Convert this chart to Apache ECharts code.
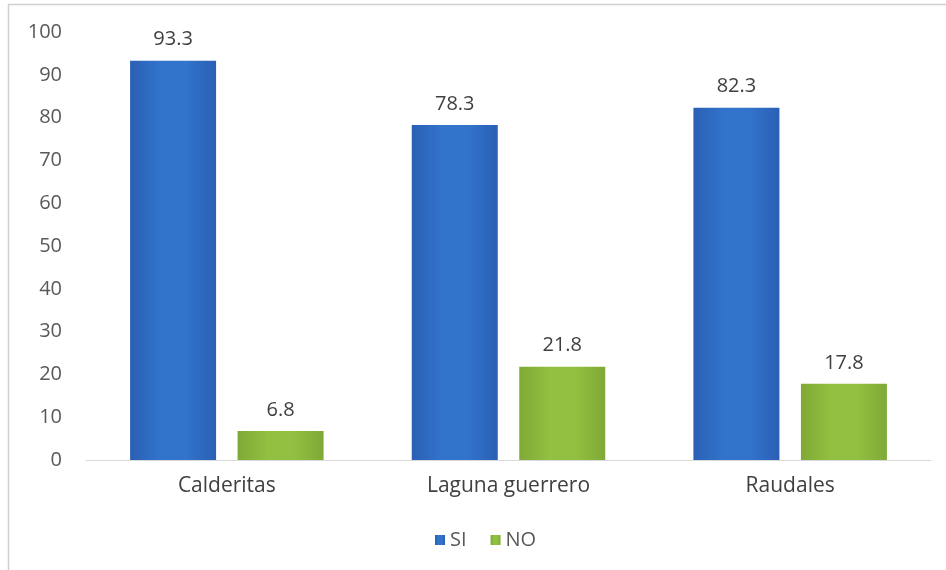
<!DOCTYPE html>
<html>
<head>
<meta charset="utf-8">
<script src="https://cdn.jsdelivr.net/npm/echarts@6/dist/echarts.min.js"></script>
<style>
html,body{margin:0;padding:0;background:#fff;}
#chart{width:946px;height:570px;}
</style>
</head>
<body>
<div id="chart"></div>
<script>
const categories = ['Calderitas', 'Laguna guerrero', 'Raudales'];
const siValues = [93.3, 78.3, 82.3];
const noValues = [6.8, 21.8, 17.8];
const seriesNames = ['SI', 'NO'];
const yTicks = {min: 0, max: 100, interval: 10};

const chart = echarts.init(document.getElementById('chart'), null, {renderer: 'canvas'});
const font = '"Open Sans", "Liberation Sans", sans-serif';
const grad = (edge, mid) => ({
  type: 'linear', x: 0, y: 0, x2: 1, y2: 0,
  colorStops: [{offset: 0, color: edge}, {offset: 0.35, color: mid}, {offset: 0.65, color: mid}, {offset: 1, color: edge}]
});
const labelStyle = {show: true, position: 'top', distance: 11, color: '#404040', fontSize: 20, fontFamily: font};
chart.setOption({
  backgroundColor: '#ffffff',
  animation: false,
  graphic: [
    {type: 'line', shape: {x1: 8, y1: 4.5, x2: 946, y2: 4.5}, style: {stroke: '#d0d0d0', lineWidth: 1.5}},
    {type: 'line', shape: {x1: 8.5, y1: 4, x2: 8.5, y2: 570}, style: {stroke: '#d0d0d0', lineWidth: 1.5}}
  ],
  legend: {
    data: seriesNames,
    bottom: 15,
    left: 430,
    itemWidth: 10,
    itemHeight: 10,
    itemGap: 24,
    icon: 'rect',
    textStyle: {color: '#595959', fontSize: 20, fontFamily: font}
  },
  grid: {left: 86, right: 15, top: 32, bottom: 110},
  xAxis: {
    type: 'category',
    data: categories,
    axisLine: {lineStyle: {color: '#d9d9d9', width: 1}},
    axisTick: {show: false},
    axisLabel: {color: '#404040', fontSize: 21, fontFamily: font, margin: 16}
  },
  yAxis: {
    type: 'value',
    min: yTicks.min, max: yTicks.max, interval: yTicks.interval,
    axisLine: {show: false},
    axisTick: {show: false},
    splitLine: {show: false},
    axisLabel: {color: '#595959', fontSize: 20, fontFamily: font, margin: 24}
  },
  series: [
    {
      name: seriesNames[0], type: 'bar', data: siValues,
      barWidth: 86, barGap: '25%',
      itemStyle: {color: grad('#2a60b4', '#3273cc')},
      label: labelStyle
    },
    {
      name: seriesNames[1], type: 'bar', data: noValues,
      barWidth: 86,
      itemStyle: {color: grad('#7fa936', '#92c040')},
      label: labelStyle
    }
  ]
});
</script>
</body>
</html>
